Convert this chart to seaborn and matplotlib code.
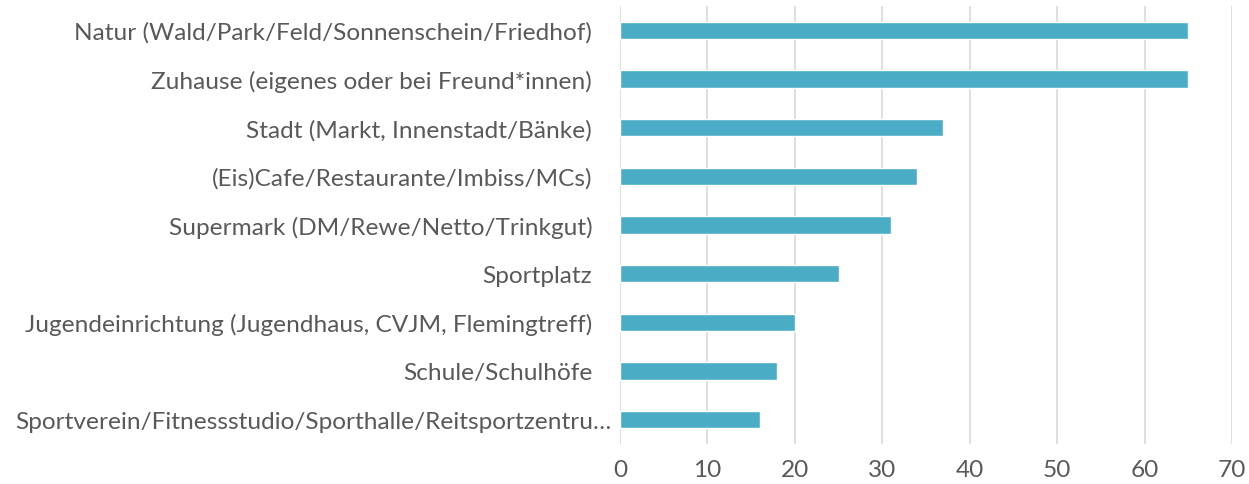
import pandas as pd
import seaborn as sns
import matplotlib.pyplot as plt
from matplotlib.transforms import ScaledTranslation

# Categories and counts (top to bottom as in the chart)
orte = [
    "Natur (Wald/Park/Feld/Sonnenschein/Friedhof)",
    "Zuhause (eigenes oder bei Freund*innen)",
    "Stadt (Markt, Innenstadt/Bänke)",
    "(Eis)Cafe/Restaurante/Imbiss/MCs)",
    "Supermark (DM/Rewe/Netto/Trinkgut)",
    "Sportplatz",
    "Jugendeinrichtung (Jugendhaus, CVJM, Flemingtreff)",
    "Schule/Schulhöfe",
    "Sportverein/Fitnessstudio/Sporthalle/Reitsportzentru…",
]
anzahl = [65, 65, 37, 34, 31, 25, 20, 18, 16]
x_ticks = [0, 10, 20, 30, 40, 50, 60, 70]

df = pd.DataFrame({"ort": orte, "anzahl": anzahl})

sns.set_theme(style="white")
plt.rcParams['font.family'] = ['Lato', 'DejaVu Sans']

fig = plt.figure(figsize=(12.49, 4.85), dpi=100)
ax = fig.add_axes([0.4964, 0.0825, 0.49, 0.9031])

sns.barplot(data=df, x="anzahl", y="ort", color="#4BACC6", saturation=1,
            width=0.35, ax=ax)

ax.set_xlim(0, 70)
ax.set_ylim(len(orte) - 0.5, -0.5)
ax.set_xticks(x_ticks)
ax.set_xlabel("")
ax.set_ylabel("")
ax.grid(axis="x", color="#D9D9D9", linewidth=1.2)
ax.set_axisbelow(True)
for s in ax.spines.values():
    s.set_visible(False)

ax.tick_params(axis="y", length=0, pad=20, labelsize=17.6, labelcolor="#595959")
ax.tick_params(axis="x", length=0, pad=11, labelsize=17.6, labelcolor="#595959")

# the truncated label sits a bit further right, like in the original
last = ax.get_yticklabels()[-1]
last.set_transform(last.get_transform() + ScaledTranslation(0.19, 0, fig.dpi_scale_trans))

fig.savefig("out.png", dpi=100)
